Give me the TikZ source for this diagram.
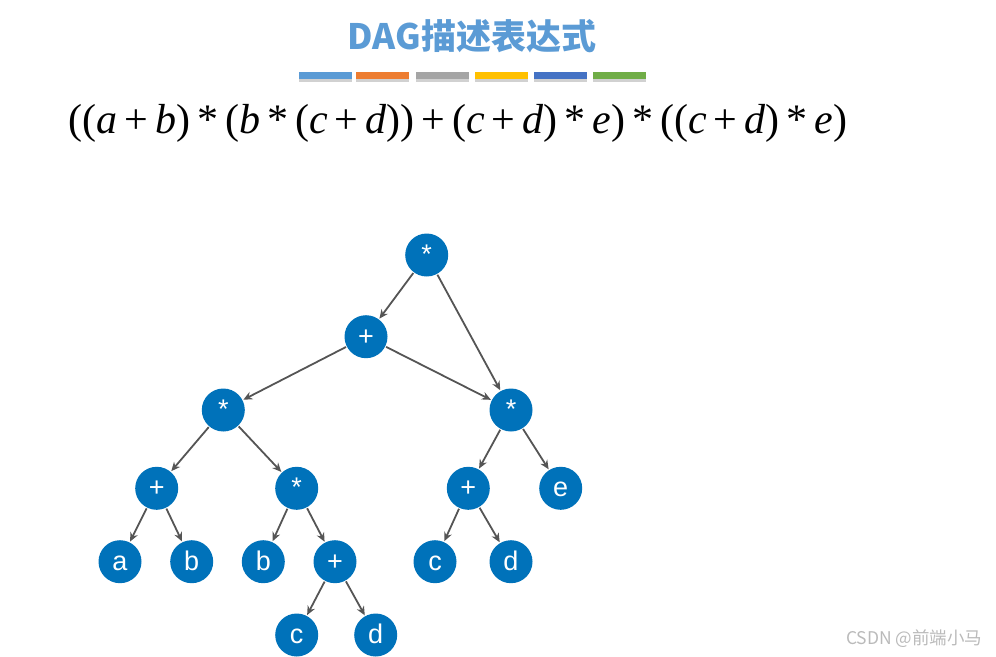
\documentclass[tikz,border=0pt]{standalone}
\usepackage{fontspec}
\setmainfont{Liberation Serif}
\newfontfamily\cjk{Noto Sans CJK SC}
\newfontfamily\nodefont{Liberation Sans}
\usetikzlibrary{arrows.meta}
\definecolor{nodeblue}{HTML}{0072BA}
\definecolor{edgegray}{HTML}{555555}
\definecolor{titleblue}{HTML}{5B9BD5}
\definecolor{barA}{HTML}{5B9BD5}
\definecolor{barB}{HTML}{ED7D31}
\definecolor{barC}{HTML}{A5A5A5}
\definecolor{barD}{HTML}{FFC000}
\definecolor{barE}{HTML}{4472C4}
\definecolor{barF}{HTML}{70AD47}
\newcommand{\opsp}[1]{\,#1\,}
\begin{document}
\begin{tikzpicture}[x=1pt,y=-1pt,
  tnode/.style={circle,fill=nodeblue,minimum size=43pt,inner sep=0pt,outer sep=1pt,
    text height=17pt,text depth=0pt,
    text=white,font=\nodefont\fontsize{27}{27}\selectfont},
  edge/.style={draw=edgegray,line width=1.8pt,-{Stealth[length=9pt,width=8pt]}},
  bar/.style={minimum width=53pt,minimum height=7pt,inner sep=0pt}]
\useasboundingbox (0,0) rectangle (996,656);
% title
\node (title) at (472,36) {\cjk\bfseries\fontsize{35}{35}\selectfont\color{titleblue}DAG描述表达式};
% bars
\foreach \c/\x [count=\i] in {barA/325.5,barB/382.5,barC/442,barD/501,barE/560,barF/619.5}{
  \fill[black,opacity=0.18] (\x-26.5,74) rectangle (\x+26.5,81.5);
  \node[bar,fill=\c] (bar\i) at (\x,75.3) {};
}
% formula
\node (formula) at (458,123) {\fontsize{42}{42}\selectfont
((\textit{a}\opsp{+}\textit{b})\opsp{*}(\textit{b}\opsp{*}(\textit{c}\opsp{+}\textit{d}))\opsp{+}(\textit{c}\opsp{+}\textit{d})\opsp{*}\textit{e})\opsp{*}((\textit{c}\opsp{+}\textit{d})\opsp{*}\textit{e})};
% nodes
\node[tnode] (root) at (426.7,255) {*};
\node[tnode] (p1) at (366,336.7) {+};
\node[tnode] (m1) at (223.3,410) {*};
\node[tnode] (m2) at (511,410) {*};
\node[tnode] (p2) at (156.7,488.3) {+};
\node[tnode] (m3) at (296.7,488.3) {*};
\node[tnode] (p3) at (468.3,488.3) {+};
\node[tnode] (e) at (560.7,488.3) {e};
\node[tnode] (a) at (120,561.7) {a};
\node[tnode] (b1) at (191.7,561.7) {b};
\node[tnode] (b2) at (263.3,561.7) {b};
\node[tnode] (p4) at (335,561.7) {+};
\node[tnode] (c1) at (435,561.7) {c};
\node[tnode] (d1) at (511,561.7) {d};
\node[tnode] (c2) at (296.7,635) {c};
\node[tnode] (d2) at (375.7,635) {d};
% edges
\draw[edge] (root) -- (p1);
\draw[edge] (root) -- (m2);
\draw[edge] (p1) -- (m1);
\draw[edge] (p1) -- (m2);
\draw[edge] (m1) -- (p2);
\draw[edge] (m1) -- (m3);
\draw[edge] (p2) -- (a);
\draw[edge] (p2) -- (b1);
\draw[edge] (m3) -- (b2);
\draw[edge] (m3) -- (p4);
\draw[edge] (p4) -- (c2);
\draw[edge] (p4) -- (d2);
\draw[edge] (m2) -- (p3);
\draw[edge] (m2) -- (e);
\draw[edge] (p3) -- (c1);
\draw[edge] (p3) -- (d1);
% watermark
\node[text=black!27,anchor=east] (wm) at (986,639) {\cjk\fontsize{17.5}{17.5}\selectfont CSDN @前端小马};
\end{tikzpicture}
\end{document}
